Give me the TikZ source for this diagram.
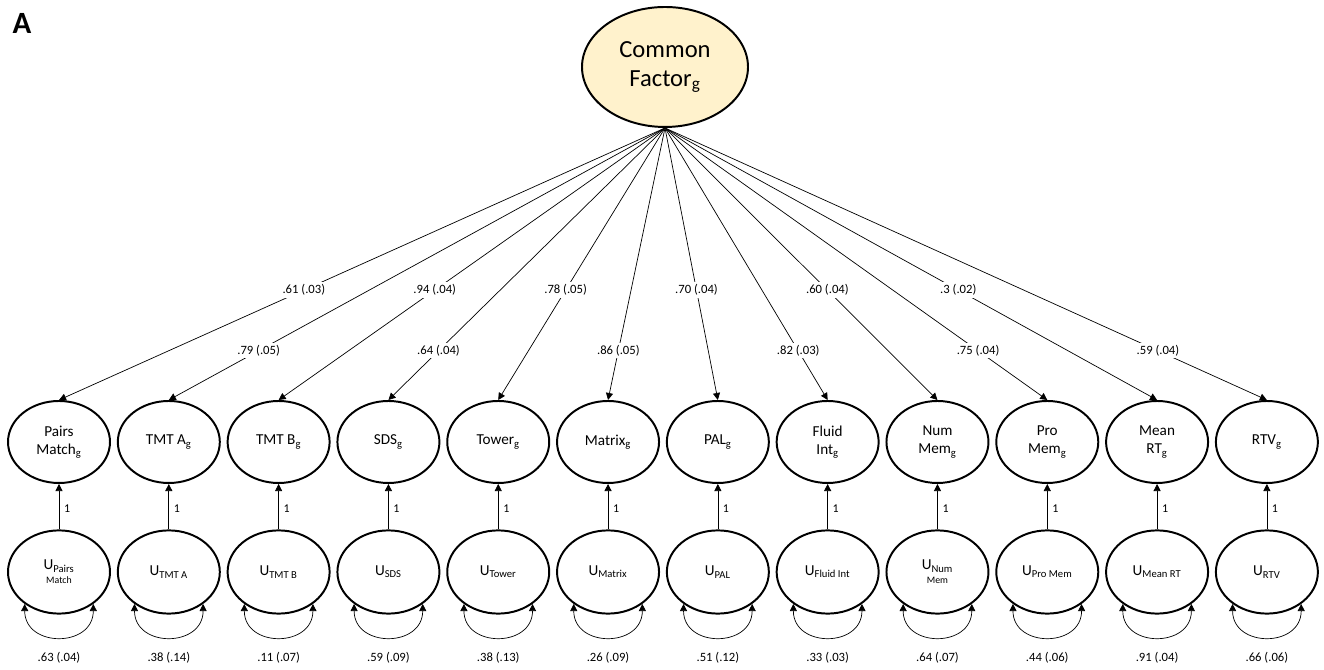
\documentclass[tikz,border=0pt]{standalone}
\usepackage{fontspec}
\setmainfont{Carlito}
\definecolor{factoryellow}{RGB}{255,242,204}
\usetikzlibrary{shapes,arrows.meta,positioning,calc}

\tikzset{
  latent/.style={ellipse, draw, line width=1.4pt, minimum width=2.55cm, minimum height=2.05cm,
    inner sep=0pt, align=center, font=\fontsize{10.8}{13}\selectfont},
  uniq/.style={latent, minimum height=2.08cm},
  loading/.style={-{Triangle[length=5pt,width=5pt]}, line width=0.5pt},
  coef/.style={fill=white, inner sep=1.5pt, font=\fontsize{9}{10}\selectfont},
}

\begin{document}
\begin{tikzpicture}
            \useasboundingbox (0,0) rectangle (33.1,16.75);
            \node[font=\bfseries\fontsize{22}{24}\selectfont] (panel) at (0.55,16.17) {A};

            % Common factor
            \node[latent, fill=factoryellow, minimum width=4.15cm, minimum height=3.0cm,
              font=\fontsize{17.5}{20.5}\selectfont] (cf) at (16.625,15.075) {Common\\Factor\textsubscript{g}};

            % Task factors
            \node[latent] (ob1) at (1.475,5.7) {Pairs\\Match\textsubscript{g}};
            \node[latent, right=0.146cm of ob1] (ob2) {TMT A\textsubscript{g}};
            \node[latent, right=0.146cm of ob2] (ob3) {TMT B\textsubscript{g}};
            \node[latent, right=0.146cm of ob3] (ob4) {SDS\textsubscript{g}};
            \node[latent, right=0.146cm of ob4] (ob5) {Tower\textsubscript{g}};
            \node[latent, right=0.146cm of ob5] (ob6) {Matrix\textsubscript{g}};
            \node[latent, right=0.146cm of ob6] (ob7) {PAL\textsubscript{g}};
            \node[latent, right=0.146cm of ob7] (ob8) {Fluid\\Int\textsubscript{g}};
            \node[latent, right=0.146cm of ob8] (ob9) {Num\\Mem\textsubscript{g}};
            \node[latent, right=0.146cm of ob9] (ob10) {Pro\\Mem\textsubscript{g}};
            \node[latent, right=0.146cm of ob10] (ob11) {Mean\\RT\textsubscript{g}};
            \node[latent, right=0.146cm of ob11] (ob12) {RTV\textsubscript{g}};

            % Unique parts
            \node[uniq, below=1.136cm of ob1] (u1) {U\textsubscript{Pairs}\\[-3pt]{\fontsize{7}{8}\selectfont Match}};
            \node[uniq, below=1.136cm of ob2] (u2) {U\textsubscript{TMT A}};
            \node[uniq, below=1.136cm of ob3] (u3) {U\textsubscript{TMT B}};
            \node[uniq, below=1.136cm of ob4] (u4) {U\textsubscript{SDS}};
            \node[uniq, below=1.136cm of ob5] (u5) {U\textsubscript{Tower}};
            \node[uniq, below=1.136cm of ob6] (u6) {U\textsubscript{Matrix}};
            \node[uniq, below=1.136cm of ob7] (u7) {U\textsubscript{PAL}};
            \node[uniq, below=1.136cm of ob8] (u8) {U\textsubscript{Fluid Int}};
            \node[uniq, below=1.136cm of ob9] (u9) {U\textsubscript{Num}\\[-3pt]{\fontsize{7}{8}\selectfont Mem}};
            \node[uniq, below=1.136cm of ob10] (u10) {U\textsubscript{Pro Mem}};
            \node[uniq, below=1.136cm of ob11] (u11) {U\textsubscript{Mean RT}};
            \node[uniq, below=1.136cm of ob12] (u12) {U\textsubscript{RTV}};

            % Loadings
            \foreach \i/\val/\p in {1/{.61 (.03)}/0.596, 2/{.79 (.05)}/0.819, 3/{.94 (.04)}/0.596,
                4/{.64 (.04)}/0.819, 5/{.78 (.05)}/0.596, 6/{.86 (.05)}/0.819, 7/{.70 (.04)}/0.596,
                8/{.82 (.03)}/0.819, 9/{.60 (.04)}/0.596, 10/{.75 (.04)}/0.819, 11/{.3 (.02)}/0.596,
                12/{.59 (.04)}/0.819}
              \draw[loading] (cf.south) -- node[coef, pos=\p] {\val} (ob\i.north);

            % Unique paths and variances
            \foreach \i/\val in {1/{.63 (.04)}, 2/{.38 (.14)}, 3/{.11 (.07)}, 4/{.59 (.09)}, 5/{.38 (.13)},
                6/{.26 (.09)}, 7/{.51 (.12)}, 8/{.33 (.03)}, 9/{.64 (.07)}, 10/{.44 (.06)}, 11/{.91 (.04)},
                12/{.66 (.06)}} {
              \draw[loading] (u\i.north) -- node[right, font=\fontsize{8.5}{10}\selectfont, pos=0.45] {1} (ob\i.south);
              \draw[loading, {Triangle[length=5pt,width=5pt]}-{Triangle[length=5pt,width=5pt]}]
                (u\i.-137) .. controls +(0,-1.1) and +(0,-1.1) .. (u\i.-43);
              \node[coef] (var\i) at (u\i |- 0,0.3) {\val};
            }
        \end{tikzpicture}
\end{document}
